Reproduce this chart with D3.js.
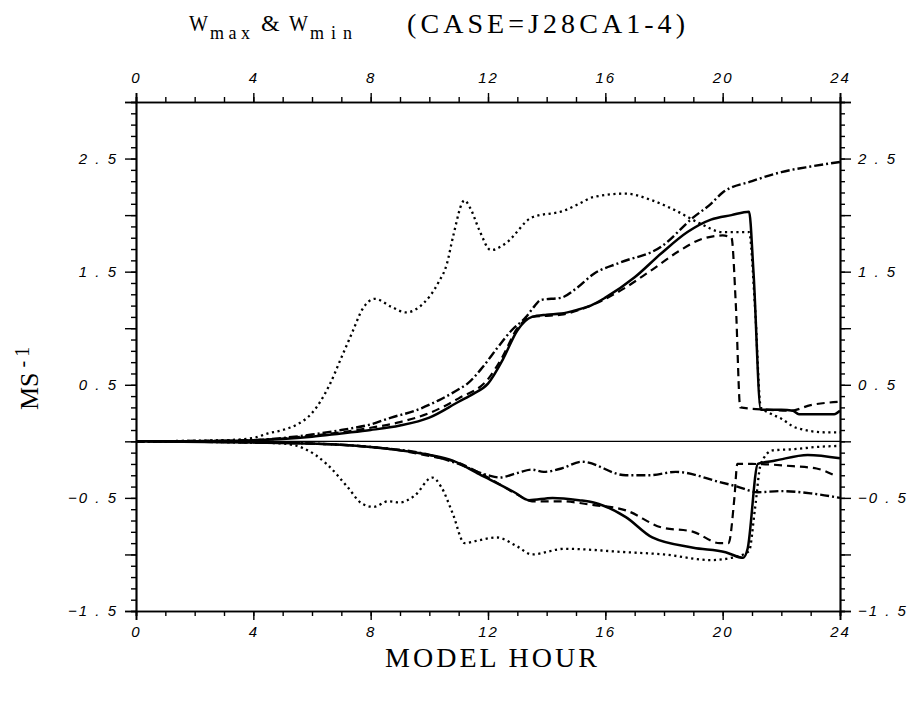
<!DOCTYPE html>
<html>
<head>
<meta charset="utf-8">
<script src="https://cdn.jsdelivr.net/npm/d3@7"></script>
<style>
  body { margin: 0; background: #fff; }
  svg { display: block; }
  .tick text { font-family: "Liberation Sans", Arial, sans-serif; font-style: italic; font-size: 15px; }
</style>
</head>
<body>
<svg id="chart"></svg>
<script>
// hour / value pairs, one array per curve
let wmaxSolid = [[0,0],[2,0],[4,0.01],[5,0.02],[6,0.04],[7,0.07],[8,0.1],[9,0.14],[10,0.21],[11,0.35],[11.5,0.42],[12,0.51],[12.5,0.72],[13,0.98],[13.5,1.1],[14,1.12],[14.5,1.13],[15,1.16],[15.5,1.2],[16,1.27],[17,1.45],[17.9,1.66],[18.8,1.85],[19.6,1.96],[20.3,2.0],[20.9,2.03],[21.05,1.5],[21.3,0.28],[22,0.28],[22.4,0.27],[22.6,0.24],[23.8,0.24],[24,0.27]];
let wmaxDashed = [[0,0],[4,0.01],[5,0.025],[6,0.05],[7,0.08],[8,0.12],[9,0.17],[10,0.25],[11,0.38],[12,0.55],[12.5,0.75],[13,1.0],[13.5,1.1],[14.5,1.12],[15.5,1.2],[16.5,1.33],[17.5,1.5],[18.5,1.68],[19.2,1.78],[20.0,1.82],[20.3,1.8],[20.45,1.2],[20.6,0.3],[21.5,0.28],[22.3,0.27],[23,0.32],[24,0.35]];
let wmaxDashDot = [[0,0],[4,0.01],[5,0.03],[6,0.06],[7,0.1],[8,0.15],[8.7,0.21],[9.5,0.27],[10.3,0.36],[11,0.46],[11.3,0.51],[11.8,0.65],[12.3,0.82],[12.8,0.98],[13.3,1.1],[13.6,1.2],[13.8,1.25],[14.5,1.27],[15,1.35],[15.6,1.48],[16.5,1.58],[17.9,1.72],[19,1.98],[19.6,2.1],[20,2.2],[21,2.3],[22,2.38],[23,2.43],[24,2.47]];
let wmaxDotted = [[0,0],[3,0.01],[4,0.03],[4.5,0.07],[5,0.1],[5.5,0.15],[6,0.25],[6.6,0.5],[7,0.74],[7.4,0.98],[7.7,1.16],[8.15,1.26],[8.7,1.19],[9.2,1.14],[9.8,1.22],[10.3,1.4],[10.6,1.57],[10.8,1.8],[11.2,2.13],[11.4,2.06],[11.7,1.87],[12.1,1.69],[12.6,1.75],[13.5,1.98],[14.6,2.04],[15.1,2.1],[15.6,2.16],[16.7,2.19],[17.6,2.13],[18.4,2.04],[19.2,1.93],[20,1.85],[20.9,1.85],[21.1,1.2],[21.3,0.3],[21.6,0.25],[22,0.2],[22.5,0.12],[23.5,0.08],[24,0.08]];

let wminSolid = [[0,0],[4,-0.01],[6,-0.02],[7,-0.03],[8,-0.05],[9,-0.08],[10,-0.12],[10.8,-0.17],[11.7,-0.29],[12.9,-0.45],[13.4,-0.52],[14.2,-0.5],[15.1,-0.52],[15.6,-0.54],[16.7,-0.67],[17.6,-0.85],[19,-0.94],[20.1,-0.98],[20.7,-1.03],[20.85,-0.95],[21.2,-0.2],[21.8,-0.17],[22.9,-0.12],[24,-0.15]];
let wminDashed = [[0,0],[4,-0.01],[6,-0.02],[8,-0.05],[9,-0.08],[10,-0.13],[11,-0.19],[12,-0.32],[13,-0.47],[13.5,-0.53],[14.5,-0.53],[15.5,-0.56],[16.7,-0.61],[17.9,-0.76],[19,-0.8],[19.9,-0.9],[20.2,-0.9],[20.4,-0.5],[20.5,-0.2],[21,-0.2],[22.4,-0.22],[23.2,-0.24],[23.8,-0.3]];
let wminDashDot = [[0,0],[4,-0.01],[6,-0.02],[8,-0.05],[10,-0.12],[11,-0.2],[12,-0.3],[12.4,-0.32],[13,-0.28],[13.5,-0.25],[13.9,-0.27],[14.5,-0.24],[15.2,-0.18],[16.7,-0.3],[17.5,-0.3],[18.4,-0.27],[19.9,-0.36],[20.5,-0.4],[21.2,-0.45],[22,-0.44],[23,-0.46],[24,-0.5]];
let wminDotted = [[0,0],[4,-0.01],[5,-0.02],[5.7,-0.06],[6.5,-0.2],[7.2,-0.4],[7.7,-0.55],[8.1,-0.58],[8.6,-0.53],[9,-0.54],[9.5,-0.48],[10.1,-0.32],[10.4,-0.4],[10.8,-0.64],[11.2,-0.9],[11.6,-0.88],[12.3,-0.85],[13,-0.93],[13.5,-1.0],[14.6,-0.95],[16.7,-0.98],[18,-1.0],[19.6,-1.05],[20.3,-1.03],[20.9,-0.97],[21.1,-0.6],[21.3,-0.2],[21.7,-0.08],[22.4,-0.07],[23.2,-0.05],[24,-0.04]];

let hourTicks = [0, 4, 8, 12, 16, 20, 24];
let valueLabels = [-1.5, -0.5, 0.5, 1.5, 2.5];

// svg size and plot box
let config = { svg: { width: 915, height: 703 }, plot: { left: 136, right: 840, top: 102, bottom: 611 } };

let svg = d3.select('#chart')
  .attr('width', config.svg.width)
  .attr('height', config.svg.height);

let x = d3.scaleLinear().domain([0, 24]).range([config.plot.left, config.plot.right]);
let y = d3.scaleLinear().domain([-1.5, 3]).range([config.plot.bottom, config.plot.top]);

function translate(a, b) {
  return 'translate(' + a + ',' + b + ')';
}

// "2.5" -> "2 . 5", like the plotter output
function spaced(v) {
  return d3.format('.1f')(v).replace('-', '\u2212').split('').join(' ').replace('\u2212 ', '\u2212');
}

let minorY = d3.range(-15, 31).map(d => d / 10);
let majorY = d3.range(-3, 7).map(d => d / 2);
let minorX = d3.range(0, 25);

function styleAxis(g) {
  g.select('.domain').attr('stroke', '#000').attr('stroke-width', 1.7);
  g.selectAll('.tick line').attr('stroke', '#000').attr('stroke-width', 1.4);
}

// left axis
svg.append('g').attr('transform', translate(config.plot.left, 0))
  .call(d3.axisLeft(y).tickValues(minorY).tickSize(5).tickFormat(''))
  .call(styleAxis);
svg.append('g').attr('transform', translate(config.plot.left, 0))
  .call(d3.axisLeft(y).tickValues(majorY).tickSize(11).tickPadding(7)
    .tickFormat(d => valueLabels.includes(d) ? spaced(d) : ''))
  .call(styleAxis);

// right axis
svg.append('g').attr('transform', translate(config.plot.right, 0))
  .call(d3.axisRight(y).tickValues(minorY).tickSize(5).tickFormat(''))
  .call(styleAxis);
svg.append('g').attr('transform', translate(config.plot.right, 0))
  .call(d3.axisRight(y).tickValues(majorY).tickSize(11).tickPadding(7)
    .tickFormat(d => valueLabels.includes(d) ? spaced(d) : ''))
  .call(styleAxis);

// top and bottom axes
svg.append('g').attr('transform', translate(0, config.plot.top))
  .call(d3.axisTop(x).tickValues(minorX).tickSize(5).tickFormat(''))
  .call(styleAxis);
svg.append('g').attr('transform', translate(0, config.plot.top))
  .call(d3.axisTop(x).tickValues(hourTicks).tickSize(9).tickPadding(10))
  .call(styleAxis);
svg.append('g').attr('transform', translate(0, config.plot.bottom))
  .call(d3.axisBottom(x).tickValues(minorX).tickSize(5).tickFormat(''))
  .call(styleAxis);
svg.append('g').attr('transform', translate(0, config.plot.bottom))
  .call(d3.axisBottom(x).tickValues(hourTicks).tickSize(9).tickPadding(6))
  .call(styleAxis);

svg.selectAll('.tick text').attr('letter-spacing', 2).attr('fill', '#000');

// zero line
svg.append('line')
  .attr('x1', x(0)).attr('x2', x(24))
  .attr('y1', y(0)).attr('y2', y(0))
  .attr('stroke', '#000').attr('stroke-width', 1.4);

// curves
let line = d3.line().x(d => x(d[0])).y(d => y(d[1])).curve(d3.curveMonotoneX);

let curves = [
  { data: wmaxDotted, dash: '2.2,3.5', width: 2.3 },
  { data: wminDotted, dash: '2.2,3.5', width: 2.3 },
  { data: wmaxDashDot, dash: '9,3,2,3', width: 2.4 },
  { data: wminDashDot, dash: '9,3,2,3', width: 2.4 },
  { data: wmaxDashed, dash: '8,5', width: 2.2 },
  { data: wminDashed, dash: '8,5', width: 2.2 },
  { data: wmaxSolid, dash: null, width: 2.5 },
  { data: wminSolid, dash: null, width: 2.5 }
];

svg.append('g').selectAll('path')
  .data(curves)
  .enter().append('path')
  .attr('d', d => line(d.data))
  .attr('fill', 'none')
  .attr('stroke', '#000')
  .attr('stroke-width', d => d.width)
  .attr('stroke-dasharray', d => d.dash);

// title
let serif = '"Liberation Serif", "DejaVu Serif", serif';
let title = svg.append('g').attr('font-family', serif).attr('fill', '#000');
title.append('text').attr('x', 189).attr('y', 31).attr('font-size', 24)
  .attr('textLength', 19).attr('lengthAdjust', 'spacingAndGlyphs').text('W');
title.append('text').attr('x', 210).attr('y', 39).attr('font-size', 18)
  .attr('textLength', 40).attr('lengthAdjust', 'spacing').text('max');
title.append('text').attr('x', 261).attr('y', 31).attr('font-size', 24).text('&');
title.append('text').attr('x', 289).attr('y', 31).attr('font-size', 24)
  .attr('textLength', 19).attr('lengthAdjust', 'spacingAndGlyphs').text('W');
title.append('text').attr('x', 310).attr('y', 39).attr('font-size', 18)
  .attr('textLength', 42).attr('lengthAdjust', 'spacing').text('min');
title.append('text').attr('x', 407).attr('y', 33).attr('font-size', 28)
  .attr('textLength', 278).attr('lengthAdjust', 'spacing').text('(CASE=J28CA1-4)');

// x axis title
svg.append('text')
  .attr('x', 385).attr('y', 667)
  .attr('font-family', serif).attr('font-size', 28)
  .attr('textLength', 212).attr('lengthAdjust', 'spacing')
  .text('MODEL HOUR');

// y axis title
let ylab = svg.append('text')
  .attr('transform', translate(38, 410) + ' rotate(-90)')
  .attr('font-family', serif).attr('font-size', 26);
ylab.append('tspan').text('MS');
ylab.append('tspan').attr('dx', 5).attr('dy', -9).attr('font-size', 20)
  .attr('letter-spacing', 4).text('-1');
</script>
</body>
</html>
